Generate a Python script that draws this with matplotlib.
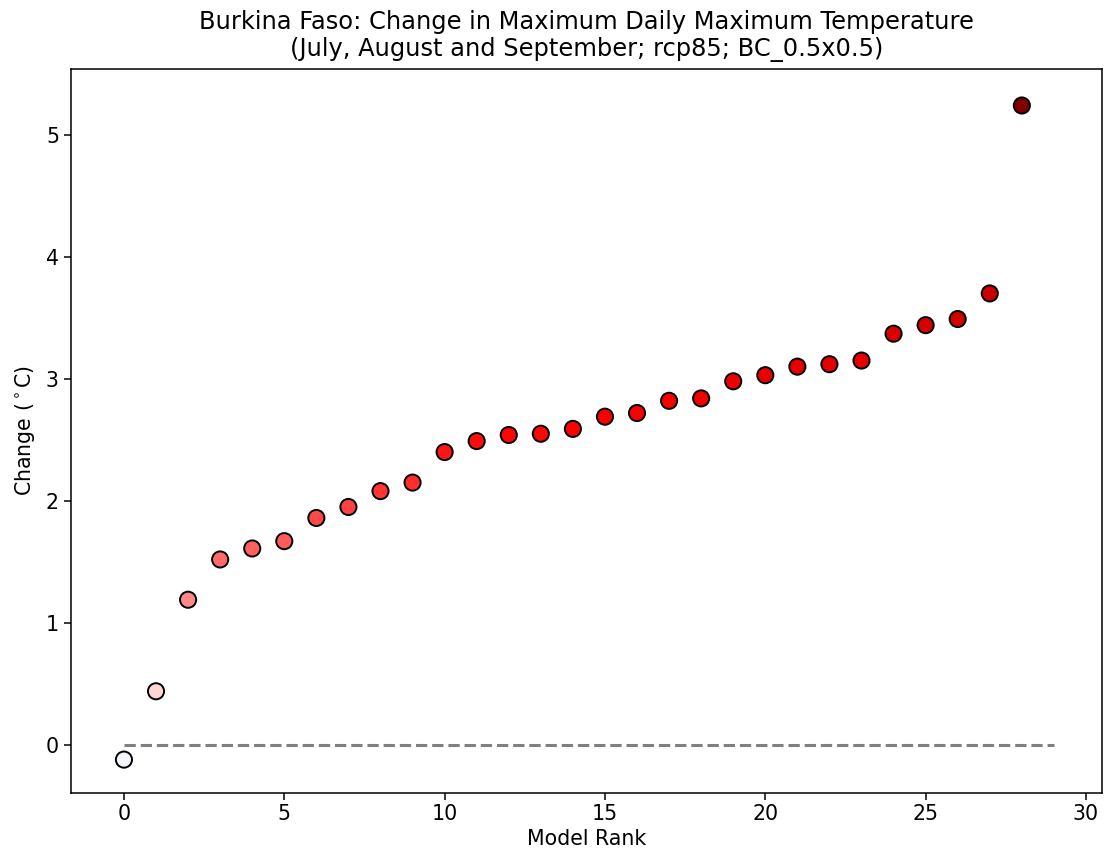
import numpy as np
import matplotlib
matplotlib.use('Agg')
from matplotlib import pyplot as plt
from matplotlib import colors

# --
# data

ranks = list(range(29))
change = [
  -0.12, 0.44, 1.19, 1.52, 1.61, 1.67, 1.86, 1.95, 2.08, 2.15,
  2.40, 2.49, 2.54, 2.55, 2.59, 2.69, 2.72, 2.82, 2.84, 2.98,
  3.03, 3.10, 3.12, 3.15, 3.37, 3.44, 3.49, 3.70, 5.24,
]

title = ('Burkina Faso: Change in Maximum Daily Maximum Temperature\n'
         '(July, August and September; rcp85; BC_0.5x0.5)')

# --

plt.rcParams['font.size'] = 14.8

def do_plot():
  fig = plt.figure(figsize=(11.05, 8.61), dpi=100)
  ax = fig.add_axes([0.064, 0.0795, 0.933, 0.8405])

  vmax = np.max(np.abs(change))
  norm = colors.Normalize(vmin=-vmax, vmax=vmax)

  _ = ax.plot([0, len(change)], [0, 0], ls='--', c='grey', lw=2.2, zorder=1)
  _ = ax.scatter(ranks, change, c=change, cmap='seismic', norm=norm,
                 s=135, edgecolors='k', linewidths=1.4, zorder=2)

  ax.set_xlim(-1.66, 30.49)
  ax.set_ylim(-0.39, 5.54)
  ax.set_xticks([0, 5, 10, 15, 20, 25, 30])
  ax.set_yticks([0, 1, 2, 3, 4, 5])
  ax.tick_params(length=5, width=1.1)
  for s in ax.spines.values():
    s.set_linewidth(1.1)

  ax.set_xlabel('Model Rank', labelpad=3)
  ax.set_ylabel(r'Change ($^\circ$C)', labelpad=6)
  ax.set_title(title, fontsize=17.4, pad=9)

  fig.savefig('out.png', dpi=100)

do_plot()
